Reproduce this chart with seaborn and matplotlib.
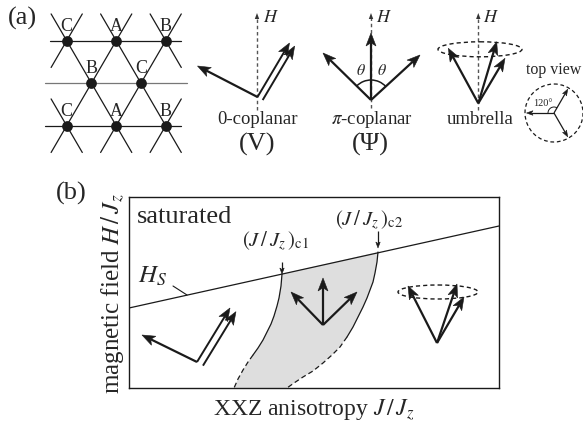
import numpy as np
import matplotlib
matplotlib.use("Agg")
import matplotlib.pyplot as plt
from matplotlib.patches import Ellipse, Circle, Arc, Polygon
import seaborn as sns

# ---------------- data ----------------
# (a) triangular lattice: node positions in lattice units (u along row, r = row index)
lat_u = [0, 1, 2, 0.5, 1.5, 0, 1, 2]
lat_r = [0, 0, 0, 1, 1, 2, 2, 2]
lat_lab = ["C", "A", "B", "B", "C", "C", "A", "B"]
row_line_u0 = [-0.34, -0.44, -0.44]
row_line_u1 = [2.31, 2.43, 2.31]

# (a) spin configurations: origin and spin vectors (dx, dy)
v_origin = (257.5, 97.0)
v_single = (-60.0, -31.0)
v_double = (32.0, -54.0)
psi_origin = (371.0, 100.0)
psi_vecs = [(0.0, -67.0), (-48.0, -47.0), (49.0, -45.0)]
umb_origin = (478.3, 103.3)
umb_vecs = [(-30.0, -55.0), (18.4, -61.6), (26.7, -45.0)]
top_center = (554.0, 113.0)
top_angles = [180, 60, -60]

# (b) phase diagram (schematic units)
hs_x = [129, 499]
hs_y = [308, 226]
left_bx = [282, 281, 279, 277, 274, 271, 267, 263, 258, 253, 248, 243, 238, 234]
left_by = [274, 286, 298, 306, 316, 324, 332, 340, 348, 355, 362, 370, 379, 388]
right_bx = [378, 377, 375, 373, 370, 367, 363, 358, 353, 347, 340, 332, 323, 313, 303, 294, 287]
right_by = [252, 262, 273, 282, 290, 298, 307, 317, 327, 337, 347, 355, 363, 371, 377, 383, 388]
left_solid_n = 10
right_solid_n = 10
b_v_origin = (197.0, 362.0)
b_v_single = (-55.0, -27.0)
b_v_double = (33.0, -54.0)
b_psi_origin = (323.0, 325.0)
b_psi_vecs = [(0.0, -47.0), (-32.0, -33.0), (34.0, -33.0)]
b_umb_origin = (437.0, 343.0)
b_umb_vecs = [(-29.0, -57.0), (20.0, -59.0), (27.0, -46.0)]

# ---------------- style ----------------
sns.set_theme(style="white")
plt.rcParams["font.family"] = ["Liberation Serif", "DejaVu Serif"]
plt.rcParams["mathtext.fontset"] = "stix"

fig = plt.figure(figsize=(5.83, 4.26), dpi=100)
ax = fig.add_axes([0, 0, 1, 1])
ax.set_xlim(0, 583)
ax.set_ylim(426, 0)
ax.axis("off")


def arrow(a, x0, y0, dx, dy, lw=1.6, L=13.0, W=5.0, color="k", z=3):
    x1, y1 = x0 + dx, y0 + dy
    n = np.hypot(dx, dy)
    ux, uy = dx / n, dy / n
    px, py = -uy, ux
    bx, by = x1 - L * ux, y1 - L * uy
    nx_, ny_ = x1 - 0.75 * L * ux, y1 - 0.75 * L * uy
    a.plot([x0, nx_], [y0, ny_], color=color, lw=lw, solid_capstyle="butt", zorder=z)
    a.add_patch(Polygon([[x1, y1], [bx + W * px, by + W * py], [nx_, ny_],
                         [bx - W * px, by - W * py]], closed=True, fc=color,
                        ec=color, lw=0.4, zorder=z))


def double_arrow(a, x0, y0, dx, dy, sep=6.5, lw=1.4):
    n = np.hypot(dx, dy)
    px, py = -dy / n, dx / n
    if px < 0:
        px, py = -px, -py
    arrow(a, x0, y0, dx, dy, lw=lw)
    arrow(a, x0 + sep * px, y0 + sep * py, dx, dy, lw=lw)


# ---------------- panel (a) ----------------
X0, Y0, DX, DY = 66.7, 40.7, 49.5, 42.5
nx = [X0 + DX * u for u in lat_u]
ny = [Y0 + DY * r for r in lat_r]

# horizontal lattice lines
for i, (u0, u1) in enumerate(zip(row_line_u0, row_line_u1)):
    col = "#777777" if i == 1 else "k"
    ax.plot([X0 + DX * u0, X0 + DX * u1], [Y0 + DY * i] * 2, color=col, lw=0.9, zorder=1)

# diagonal lattice lines
ext = 0.63
for sgn in (+1, -1):
    groups = {}
    for u, r in zip(lat_u, lat_r):
        c = round(u - sgn * 0.5 * r, 3)
        groups.setdefault(c, []).append(r)
    for c, rs in groups.items():
        r0, r1 = min(rs) - ext, max(rs) + ext
        ax.plot([X0 + DX * (c + sgn * 0.5 * r0), X0 + DX * (c + sgn * 0.5 * r1)],
                [Y0 + DY * r0, Y0 + DY * r1], color="k", lw=0.9, zorder=1)

sns.scatterplot(x=nx, y=ny, s=60, color="k", edgecolor="k", linewidth=0, ax=ax, zorder=4)
for x, y, t in zip(nx, ny, lat_lab):
    ax.text(x, y - 10, t, ha="center", va="baseline", fontsize=13, zorder=5)

ax.text(8, 25, "(a)", fontsize=19, va="baseline", ha="left")


def h_axis(x, ytop, ybot, lab_x):
    ax.plot([x, x], [ybot, ytop + 4], color="#555555", lw=1.0, ls=(0, (2.5, 2.0)), zorder=1)
    ax.add_patch(Polygon([[x, ytop], [x - 2.2, ytop + 6], [x + 2.2, ytop + 6]],
                         closed=True, fc="#333333", ec="none", zorder=2))
    ax.text(lab_x, 21.5, "$H$", fontsize=13, ha="left", va="baseline")


# 0-coplanar (V)
h_axis(257.0, 13, 110, 263)
arrow(ax, v_origin[0], v_origin[1], *v_single)
double_arrow(ax, v_origin[0], v_origin[1], *v_double, sep=6.0)
ax.text(257, 124, "0-coplanar", fontsize=13.5, ha="center", va="baseline")
ax.text(257, 151, "(V)", fontsize=19, ha="center", va="baseline")

# pi-coplanar (Psi)
h_axis(371.0, 13, 108, 376)
for v in psi_vecs:
    arrow(ax, psi_origin[0], psi_origin[1], *v)
ax.add_patch(Arc(psi_origin, 40, 40, theta1=224.4, theta2=317.4, color="k", lw=1.1))
ax.text(361, 75, r"$\theta$", fontsize=11.5, ha="center", va="baseline")
ax.text(382, 75, r"$\theta$", fontsize=11.5, ha="center", va="baseline")
ax.text(372, 124, r"$\pi$-coplanar", fontsize=13.5, ha="center", va="baseline")
ax.text(370, 151, "(Ψ)", fontsize=19, ha="center", va="baseline")

# umbrella
h_axis(478.3, 13, 110, 483)
ax.add_patch(Ellipse((480, 49.3), 84, 15, fill=False, ec="k", lw=1.0, ls=(0, (3, 2.2)), zorder=2))
for v in umb_vecs:
    arrow(ax, umb_origin[0], umb_origin[1], *v)
ax.text(480, 124, "umbrella", fontsize=13.5, ha="center", va="baseline")

# top view
ax.text(554, 74, "top view", fontsize=11.5, ha="center", va="baseline")
ax.add_patch(Circle(top_center, 29, fill=False, ec="k", lw=0.9, ls=(0, (3, 2.2))))
for ang in top_angles:
    rad = np.deg2rad(ang)
    arrow(ax, top_center[0], top_center[1], 27.5 * np.cos(rad), -27.5 * np.sin(rad),
          lw=0.9, L=6.5, W=2.3)
ax.add_patch(Arc(top_center, 12, 12, theta1=180, theta2=300, color="k", lw=0.7))
ax.text(543, 106.5, "120°", fontsize=7.5, ha="center", va="baseline")

# ---------------- panel (b) ----------------
axb = fig.add_axes([129 / 583, 1 - 388 / 426, 370 / 583, 191 / 426])
axb.set_xlim(129, 499)
axb.set_ylim(388, 197)
axb.set_xticks([])
axb.set_yticks([])
axb.patch.set_alpha(0)
for s in axb.spines.values():
    s.set_color("k")
    s.set_linewidth(1.0)
    s.set_visible(True)

poly_x = left_bx + right_bx[::-1]
poly_y = left_by + right_by[::-1]
axb.fill(poly_x, poly_y, color="#dedede", lw=0, zorder=0)

sns.lineplot(x=hs_x, y=hs_y, sort=False, estimator=None, color="k", lw=0.9, ax=axb)
sns.lineplot(x=left_bx[:left_solid_n], y=left_by[:left_solid_n], sort=False,
             estimator=None, color="k", lw=0.9, ax=axb)
sns.lineplot(x=left_bx[left_solid_n - 1:], y=left_by[left_solid_n - 1:], sort=False,
             estimator=None, color="k", lw=0.9, ax=axb, linestyle=(0, (4, 2.5)))
sns.lineplot(x=right_bx[:right_solid_n], y=right_by[:right_solid_n], sort=False,
             estimator=None, color="k", lw=0.9, ax=axb)
sns.lineplot(x=right_bx[right_solid_n - 1:], y=right_by[right_solid_n - 1:], sort=False,
             estimator=None, color="k", lw=0.9, ax=axb, linestyle=(0, (4, 2.5)))
axb.set_xlim(129, 499)
axb.set_ylim(388, 197)
axb.set_xlabel("")
axb.set_ylabel("")

arrow(axb, *b_v_origin, *b_v_single)
double_arrow(axb, *b_v_origin, *b_v_double, sep=7.0)
for v in b_psi_vecs:
    arrow(axb, *b_psi_origin, *v)
axb.add_patch(Ellipse((438, 292), 80, 14, fill=False, ec="k", lw=1.0, ls=(0, (3, 2.2)), zorder=2))
for v in b_umb_vecs:
    arrow(axb, *b_umb_origin, *v)

axb.text(137, 223, "saturated", fontsize=19, ha="left", va="baseline")
axb.text(138, 283, "$H_S$", fontsize=18, ha="left", va="baseline")
axb.plot([173, 187], [286, 295], color="k", lw=0.8)
axb.text(242, 247, r"$(J\,/\,J_z\,)_{\mathrm{c1}}$", fontsize=15, ha="left", va="baseline")
axb.text(335, 226, r"$(J\,/\,J_z\,)_{\mathrm{c2}}$", fontsize=15, ha="left", va="baseline")
arrow(axb, 282, 262, 0, 12, lw=0.9, L=6, W=2.2)
arrow(axb, 378, 231, 0, 17, lw=0.9, L=6, W=2.2)

ax.text(71, 200, "(b)", fontsize=19, ha="center", va="baseline")
ax.text(112, 294, r"magnetic field $H\,/\,J_z$", fontsize=18, rotation=90,
        ha="center", va="center")
ax.text(314, 415, r"XXZ anisotropy $J\,/\,J_z$", fontsize=17, ha="center", va="baseline")

fig.savefig("out.png", dpi=100)
